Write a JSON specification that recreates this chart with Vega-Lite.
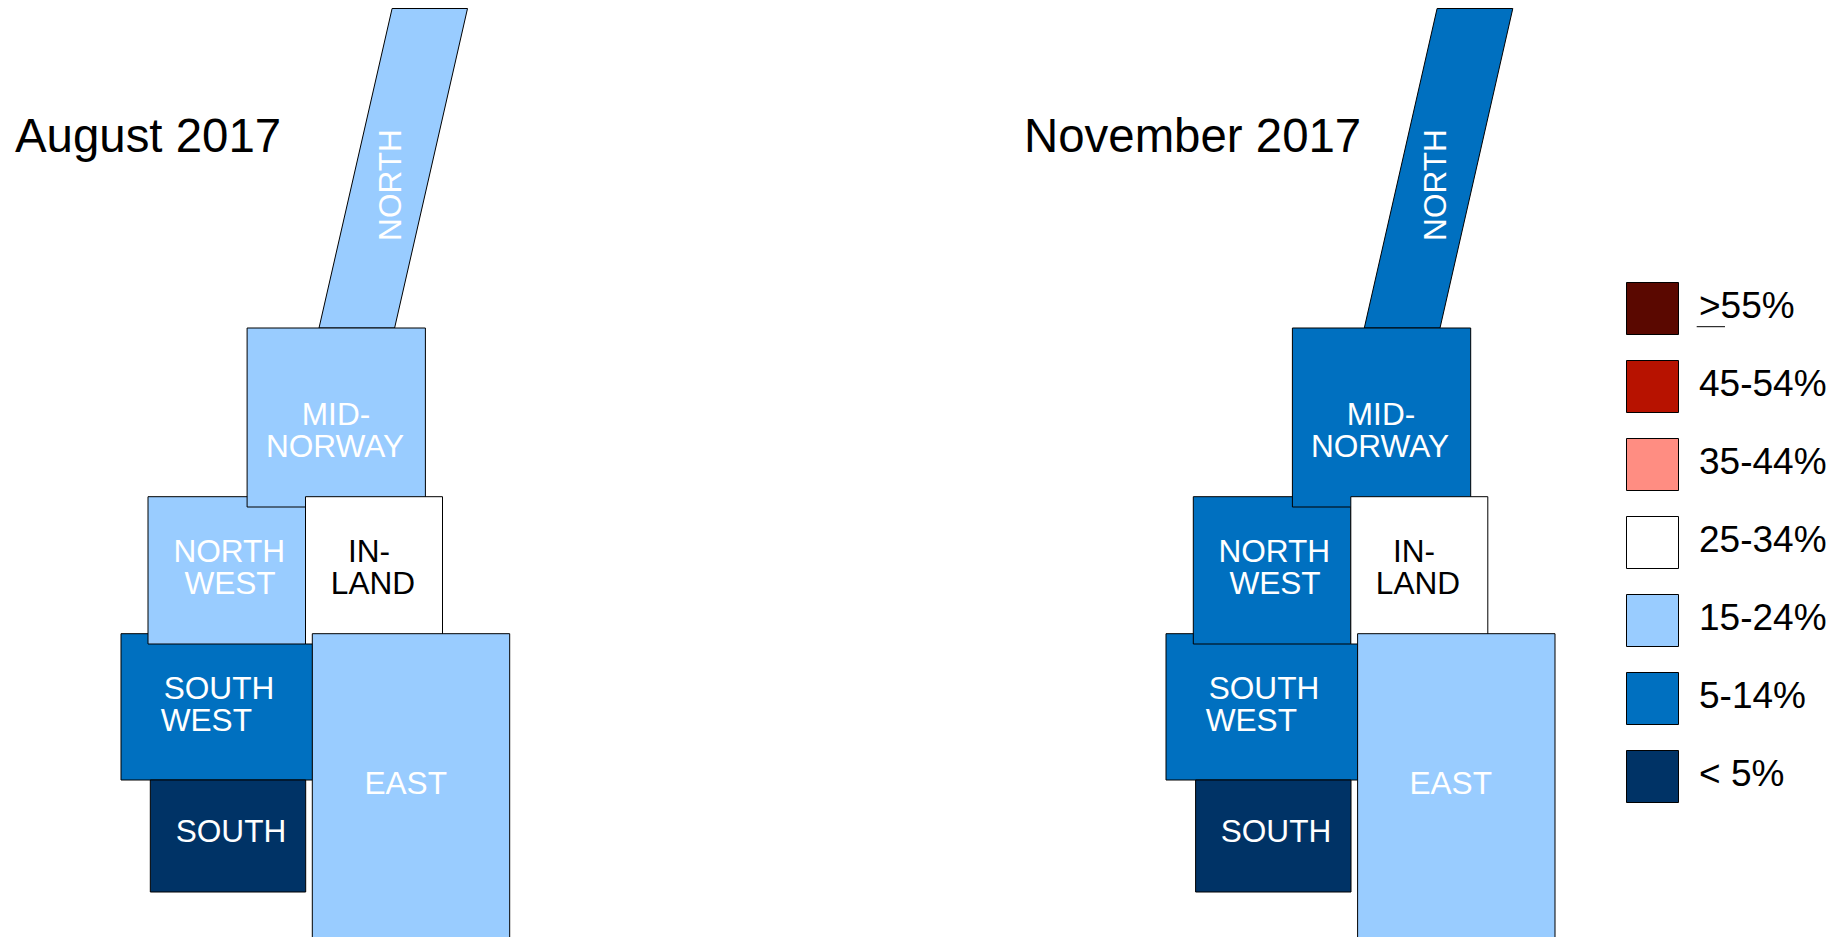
{
"$schema":"https://vega.github.io/schema/vega-lite/v6.json",
"width":1845,"height":937,"padding":0,"autosize":{"type":"none"},
"background":"white",
"config":{"view":{"stroke":null},"text":{"font":"Liberation Sans"}},
"datasets":{
"blocks":[
{"panel":"August 2017","region":"SOUTH WEST","band":"5-14%","x":121,"x2":312.5,"y":633.7,"y2":780},
{"panel":"August 2017","region":"NORTH WEST","band":"15-24%","x":148,"x2":305.5,"y":496.7,"y2":644},
{"panel":"August 2017","region":"MID-NORWAY","band":"15-24%","x":247.1,"x2":425.4,"y":328,"y2":507},
{"panel":"August 2017","region":"INLAND","band":"25-34%","x":305.5,"x2":442.5,"y":496.7,"y2":644},
{"panel":"August 2017","region":"SOUTH","band":"< 5%","x":150.3,"x2":305.7,"y":780,"y2":892},
{"panel":"August 2017","region":"EAST","band":"15-24%","x":312.3,"x2":509.7,"y":633.7,"y2":960},
{"panel":"November 2017","region":"SOUTH WEST","band":"5-14%","x":1166,"x2":1357.5,"y":633.7,"y2":780},
{"panel":"November 2017","region":"NORTH WEST","band":"5-14%","x":1193.3,"x2":1350.8,"y":496.7,"y2":644},
{"panel":"November 2017","region":"MID-NORWAY","band":"5-14%","x":1292.4,"x2":1470.7,"y":328,"y2":507},
{"panel":"November 2017","region":"INLAND","band":"25-34%","x":1350.8,"x2":1487.8,"y":496.7,"y2":644},
{"panel":"November 2017","region":"SOUTH","band":"< 5%","x":1195.6,"x2":1351,"y":780,"y2":892},
{"panel":"November 2017","region":"EAST","band":"15-24%","x":1357.6,"x2":1555,"y":633.7,"y2":960}
],
"north":[
{"panel":"August 2017","region":"NORTH","band":"15-24%","y":8.5,"x":392.1,"x2":467.5},
{"panel":"August 2017","region":"NORTH","band":"15-24%","y":328,"x":319,"x2":394.6},
{"panel":"November 2017","region":"NORTH","band":"5-14%","y":8.5,"x":1437.1,"x2":1512.8},
{"panel":"November 2017","region":"NORTH","band":"5-14%","y":328,"x":1364.3,"x2":1440}
],
"labels":[
{"line":"MID-","region":"MID-NORWAY","x":336,"y":425},
{"line":"NORWAY","region":"MID-NORWAY","x":335,"y":457},
{"line":"NORTH","region":"NORTH WEST","x":229.3,"y":562.3},
{"line":"WEST","region":"NORTH WEST","x":230,"y":594.3},
{"line":"SOUTH","region":"SOUTH WEST","x":219,"y":699},
{"line":"WEST","region":"SOUTH WEST","x":206.3,"y":731},
{"line":"SOUTH","region":"SOUTH","x":231,"y":842.3},
{"line":"EAST","region":"EAST","x":405.7,"y":794.3},
{"line":"MID-","region":"MID-NORWAY","x":1381,"y":425},
{"line":"NORWAY","region":"MID-NORWAY","x":1380,"y":457},
{"line":"NORTH","region":"NORTH WEST","x":1274.3,"y":562.3},
{"line":"WEST","region":"NORTH WEST","x":1275,"y":594.3},
{"line":"SOUTH","region":"SOUTH WEST","x":1264,"y":699},
{"line":"WEST","region":"SOUTH WEST","x":1251.3,"y":731},
{"line":"SOUTH","region":"SOUTH","x":1276,"y":842.3},
{"line":"EAST","region":"EAST","x":1450.7,"y":794.3}
],
"inland":[
{"line":"IN-","x":369,"y":562.3},
{"line":"LAND","x":373,"y":594.3},
{"line":"IN-","x":1414,"y":562.3},
{"line":"LAND","x":1418,"y":594.3}
],
"northLabel":[
{"line":"NORTH","x":401,"y":185},
{"line":"NORTH","x":1446,"y":185}
],
"titles":[
{"title":"August 2017","x":15,"y":152},
{"title":"November 2017","x":1024,"y":152}
],
"underline":[
{"x":1696.7,"x2":1725,"y":326.7}
]
},
"layer":[
{"data":{"name":"north"},
 "mark":{"type":"area","orient":"horizontal","stroke":"#000","strokeWidth":1,"opacity":1},
 "encoding":{
  "y":{"field":"y","type":"quantitative","scale":{"domain":[937,0],"nice":false,"zero":false},"axis":null},
  "x":{"field":"x","type":"quantitative","scale":{"domain":[0,1845],"nice":false,"zero":false},"axis":null},
  "x2":{"field":"x2"},
  "detail":{"field":"panel"},
  "fill":{"field":"band","type":"nominal",
    "scale":{"domain":[">55%","45-54%","35-44%","25-34%","15-24%","5-14%","< 5%"],"range":["#5A0800","#B71200","#FF8D82","#FFFFFF","#99CCFF","#0070C0","#003366"]},
    "legend":{"orient":"none","legendX":1626,"legendY":282,"title":null,"symbolType":"square","symbolSize":2704,"symbolStrokeWidth":1,"symbolStrokeColor":"#000","symbolOpacity":1,"labelFontSize":37,"labelFont":"Liberation Sans","labelColor":"#000","rowPadding":21,"labelOffset":20,"labelLimit":300,"padding":0,"encode":{"labels":{"update":{"dy":{"value":-2}}}}}}
 }},
{"data":{"name":"blocks"},
 "mark":{"type":"rect","stroke":"#000","strokeWidth":1,"opacity":1,"clip":true},
 "encoding":{
  "x":{"field":"x","type":"quantitative"},
  "x2":{"field":"x2"},
  "y":{"field":"y","type":"quantitative"},
  "y2":{"field":"y2"},
  "fill":{"field":"band","type":"nominal"}
 }},
{"data":{"name":"labels"},
 "mark":{"type":"text","align":"center","baseline":"alphabetic","fontSize":31.6,"color":"#fff"},
 "encoding":{"x":{"field":"x","type":"quantitative"},"y":{"field":"y","type":"quantitative"},"text":{"field":"line"}}},
{"data":{"name":"inland"},
 "mark":{"type":"text","align":"center","baseline":"alphabetic","fontSize":31.6,"color":"#000"},
 "encoding":{"x":{"field":"x","type":"quantitative"},"y":{"field":"y","type":"quantitative"},"text":{"field":"line"}}},
{"data":{"name":"northLabel"},
 "mark":{"type":"text","align":"center","baseline":"alphabetic","fontSize":31.6,"angle":270,"color":"#fff"},
 "encoding":{"x":{"field":"x","type":"quantitative"},"y":{"field":"y","type":"quantitative"},"text":{"field":"line"}}},
{"data":{"name":"titles"},
 "mark":{"type":"text","align":"left","baseline":"alphabetic","fontSize":47.4,"color":"#000"},
 "encoding":{"x":{"field":"x","type":"quantitative"},"y":{"field":"y","type":"quantitative"},"text":{"field":"title"}}},
{"data":{"name":"underline"},
 "mark":{"type":"rule","stroke":"#000","strokeWidth":1},
 "encoding":{"x":{"field":"x","type":"quantitative"},"x2":{"field":"x2"},"y":{"field":"y","type":"quantitative"}}}
]
}
